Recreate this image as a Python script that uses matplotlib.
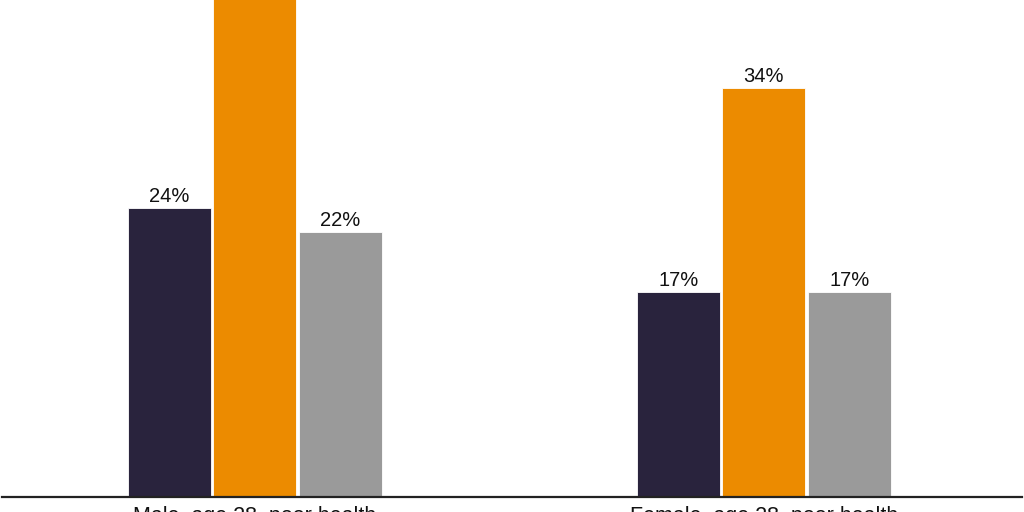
import matplotlib
matplotlib.use("Agg")
import matplotlib.pyplot as plt
import numpy as np

categories = ["Male, age 28, poor health", "Female, age 28, poor health"]
series_a = [24, 17]
series_b = [45, 34]
series_c = [22, 17]
colors = ["#29233d", "#ec8b00", "#9a9a9a"]

plt.rcParams['font.family'] = ['Liberation Sans', 'DejaVu Sans']

fig = plt.figure(figsize=(10.24, 5.12), dpi=100)
ax = fig.add_axes([2/1024, 15.5/512, 1020/1024, 1 - 15.5/512])

x = np.arange(len(categories))
step = 0.168
width = 0.163
for i, (vals, c) in enumerate(zip([series_a, series_b, series_c], colors)):
    pos = x + (i - 1) * step
    ax.bar(pos, vals, width=width, color=c, edgecolor='white', linewidth=0.6, zorder=2)
    for xp, v in zip(pos, vals):
        ax.annotate(f"{v}%", (xp, v), xytext=(0, 1.5), textcoords='offset points',
                    ha='center', va='bottom', fontsize=14.5, color='#111111',
                    annotation_clip=True)

ax.set_xlim(-0.497, 1.507)
ax.set_ylim(0, 41.3)
ax.set_xticks(x)
ax.set_xticklabels(categories, fontsize=15.5, color='#111111')
ax.tick_params(axis='x', length=0, pad=7)
ax.set_yticks([])
for s in ['top', 'right', 'left']:
    ax.spines[s].set_visible(False)
ax.spines['bottom'].set_linewidth(1.6)
ax.spines['bottom'].set_color('#222222')
ax.spines['bottom'].set_zorder(3)

fig.savefig("out.png", dpi=100)
